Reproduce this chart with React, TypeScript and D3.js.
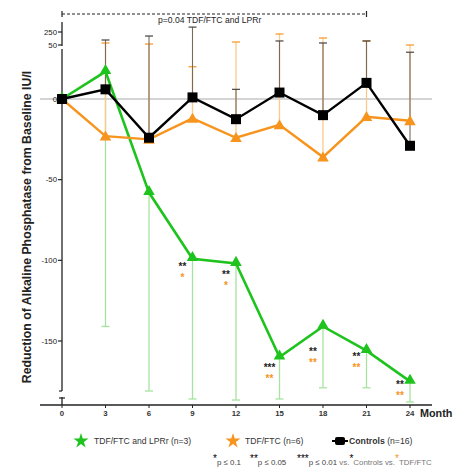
import React from "react";
import * as d3 from "d3";

const months = [0, 3, 6, 9, 12, 15, 18, 21, 24];
const lprMean = [0, 17, -58, -99, -102, -160, -141, -156, -175];
const lprLower = [null, -141, -181, -214, -229, -214, -179, -179, -257];
const tdfMean = [0, -23, -25, -12, -24, -16, -36, -11, -13.5];
const tdfUpper = [null, 81, 65, 20, 96, 219, 158, 112, 50];
const ctlMean = [0, 6, -24, 1, -12.5, 4, -10, 10, -29];
const ctlUpper = [null, 127, 188, 327, 6, 112, 81, 112, 29];
const yTicks = [250, 50, 0, -50, -100, -150];
const sigMonths = [9, 12, 15, 18, 21, 24];
const sigCtl = ["**", "**", "***", "**", "**", "**"];
const sigTdf = ["*", "*", "**", "**", "**", "**"];
const sigCtlY = [-104, -109, -167, -157, -160, -177];

const GREEN = "#1ec31e";
const ORANGE = "#f7941d";
const GREEN_L = "#a6e3a0";
const ORANGE_L = "#fcc98c";
const CTL_BAR = "#7a6a5c";

export default function App() {
  const W = 456, H = 472;
  const x = d3.scaleLinear().domain([0, 24]).range([62, 410]);
  const y = d3
    .scaleLinear()
    .domain([-300, -200, -181, 31, 50, 250, 360])
    .range([405, 398, 391, 49, 45, 32, 25]);
  const font = "Liberation Sans, Arial, sans-serif";
  const mk = (arr: number[]) =>
    d3.line<number>().x((_, i) => x(months[i])).y((d) => y(d))(arr) as string;
  const tri = d3.symbol().type(d3.symbolTriangle).size(58)() as string;
  const star = d3.symbol().type(d3.symbolStar).size(70)() as string;

  return (
    <svg width={W} height={H} style={{ position: "absolute", left: 0, top: 0 }} fontFamily={font}>
      <rect width={W} height={H} fill="#fff" />
      {/* top significance bracket */}
      <line x1={x(0)} x2={x(21)} y1={14} y2={14} stroke="#222" strokeWidth={1} strokeDasharray="3,2" />
      <line x1={x(0)} x2={x(0)} y1={11} y2={17} stroke="#222" strokeWidth={1.2} />
      <line x1={x(21)} x2={x(21)} y1={11} y2={17} stroke="#222" strokeWidth={1.2} />
      <text x={158} y={23} fontSize={8.6} fill="#222">p=0.04  TDF/FTC and LPRr</text>

      {/* zero line */}
      <line x1={40} x2={432} y1={y(0)} y2={y(0)} stroke="#aaa" strokeWidth={1.2} />

      {/* y axis broken segments */}
      <line x1={62} x2={62} y1={22} y2={46} stroke="#222" strokeWidth={1.3} />
      <line x1={62} x2={62} y1={49} y2={391} stroke="#222" strokeWidth={1.3} />
      <line x1={62} x2={62} y1={397} y2={405} stroke="#222" strokeWidth={1.3} />
      <line x1={59} x2={62} y1={391} y2={391} stroke="#222" strokeWidth={1.2} />
      <line x1={59} x2={65} y1={398} y2={398} stroke="#222" strokeWidth={1.2} />
      {yTicks.map((t) => (
        <g key={t}>
          <line x1={58} x2={62} y1={y(t)} y2={y(t)} stroke="#222" strokeWidth={1.2} />
          <text x={57} y={y(t) + 2.8} fontSize={7.8} textAnchor="end" fill="#222">{t}</text>
        </g>
      ))}

      {/* x axis */}
      <line x1={40} x2={432} y1={405} y2={405} stroke="#222" strokeWidth={1.3} />
      {months.map((m) => (
        <g key={m}>
          <line x1={x(m)} x2={x(m)} y1={405} y2={408} stroke="#222" strokeWidth={1} />
          <text x={x(m)} y={416} fontSize={7.8} textAnchor="middle" fontWeight="bold" fill="#333">{m}</text>
        </g>
      ))}
      <text x={420} y={417} fontSize={10.8} fontWeight="bold" fill="#222">Month</text>

      {/* y label */}
      <text
        transform={`translate(31,227) rotate(-90)`}
        fontSize={12.3}
        fontWeight="bold"
        textAnchor="middle"
        fill="#222"
      >
        Reduction of Alkaline Phosphatase from Baseline IU/l
      </text>

      {/* error bars */}
      {months.map((m, i) =>
        lprLower[i] == null ? null : (
          <g key={"g" + m}>
            <line x1={x(m)} x2={x(m)} y1={y(lprMean[i])} y2={y(lprLower[i] as number)} stroke={GREEN_L} strokeWidth={1.3} />
            <line x1={x(m) - 4} x2={x(m) + 4} y1={y(lprLower[i] as number)} y2={y(lprLower[i] as number)} stroke={GREEN_L} strokeWidth={1.3} />
          </g>
        )
      )}
      {months.map((m, i) =>
        tdfUpper[i] == null ? null : (
          <g key={"o" + m}>
            <line x1={x(m)} x2={x(m)} y1={y(tdfMean[i])} y2={y(tdfUpper[i] as number)} stroke={ORANGE_L} strokeWidth={1.3} />
            <line x1={x(m) - 4} x2={x(m) + 4} y1={y(tdfUpper[i] as number)} y2={y(tdfUpper[i] as number)} stroke={ORANGE} strokeWidth={1.2} />
          </g>
        )
      )}
      {months.map((m, i) =>
        ctlUpper[i] == null ? null : (
          <g key={"c" + m}>
            <line x1={x(m)} x2={x(m)} y1={y(ctlMean[i])} y2={y(ctlUpper[i] as number)} stroke={CTL_BAR} strokeWidth={1.1} />
            <line x1={x(m) - 4} x2={x(m) + 4} y1={y(ctlUpper[i] as number)} y2={y(ctlUpper[i] as number)} stroke="#444" strokeWidth={1.2} />
          </g>
        )
      )}

      {/* lines */}
      <path d={mk(lprMean)} fill="none" stroke={GREEN} strokeWidth={2.6} />
      <path d={mk(tdfMean)} fill="none" stroke={ORANGE} strokeWidth={2.4} />
      <path d={mk(ctlMean)} fill="none" stroke="#000" strokeWidth={2.4} />
      {months.map((m, i) => (
        <path key={"gm" + m} d={tri} transform={`translate(${x(m)},${y(lprMean[i]) - 1})`} fill={GREEN} />
      ))}
      {months.map((m, i) => (
        <path key={"om" + m} d={tri} transform={`translate(${x(m)},${y(tdfMean[i]) + 1})`} fill={ORANGE} />
      ))}
      {months.map((m, i) => (
        <rect key={"cm" + m} x={x(m) - 5} y={y(ctlMean[i]) - 5} width={10} height={10} fill="#000" />
      ))}

      {/* significance stars */}
      {sigMonths.map((m, i) => (
        <g key={"s" + m}>
          <text x={x(m) - 10} y={y(sigCtlY[i]) + 3} fontSize={10} fontWeight="bold" textAnchor="middle" fill="#222">{sigCtl[i]}</text>
          <text x={x(m) - 10} y={y(sigCtlY[i]) + 14} fontSize={10} fontWeight="bold" textAnchor="middle" fill={ORANGE}>{sigTdf[i]}</text>
        </g>
      ))}

      {/* legend */}
      <path d={star} transform="translate(81,441)" fill={GREEN} />
      <text x={94} y={444} fontSize={8.6} fill="#333">TDF/FTC and LPRr (n=3)</text>
      <path d={star} transform="translate(233,441)" fill={ORANGE} />
      <text x={245} y={444} fontSize={8.6} fill="#333">TDF/FTC (n=6)</text>
      <rect x={335} y={437} width={10} height={8} rx={2} fill="#000" />
      <line x1={332} x2={348} y1={441} y2={441} stroke="#000" strokeWidth={2} />
      <text x={349} y={444} fontSize={8.7} fill="#333"><tspan fontWeight="bold">Controls</tspan> (n=16)</text>

      {/* footnote */}
      <g fontSize={7.9} fill="#444">
        <text x={213} y={465}><tspan fontSize={10} dy={-3} fill="#000">*</tspan><tspan dy={3}>p ≤ 0.1</tspan></text>
        <text x={250} y={465}><tspan fontSize={10} dy={-3} fill="#000">**</tspan><tspan dy={3}>p ≤ 0.05</tspan></text>
        <text x={297} y={465}>
          <tspan fontSize={10} dy={-3} fill="#000">***</tspan>
          <tspan dy={3}>p ≤ 0.01 </tspan>
          <tspan fill="#777">vs.</tspan>
          <tspan fontSize={10} dy={-3} fill="#000">*</tspan>
          <tspan dy={3} fill="#777">Controls vs.</tspan>
          <tspan fontSize={10} dy={-3} fill={ORANGE}>*</tspan>
          <tspan dy={3} fill="#777">TDF/FTC</tspan>
        </text>
      </g>
    </svg>
  );
}
